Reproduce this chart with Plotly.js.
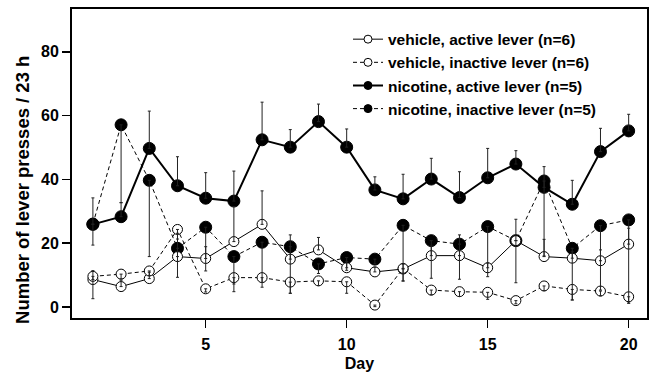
<!DOCTYPE html>
<html>
<head>
<meta charset="utf-8">
<script src="https://cdn.plot.ly/plotly-3.0.1.min.js"></script>
<style>html,body{margin:0;padding:0;background:#fff;}#chart{width:649px;height:373px;}</style>
</head>
<body>
<div id="chart"></div>
<script>
var days = [1,2,3,4,5,6,7,8,9,10,11,12,13,14,15,16,17,18,19,20];
var xTicks = [5,10,15,20];
var yTicks = [0,20,40,60,80];

var vehActive      = [8.6, 6.4, 8.9, 15.8, 15.2, 20.5, 25.9, 15.0, 17.9, 12.3, 11.0, 11.9, 16.1, 16.1, 12.3, 20.8, 15.8, 15.3, 14.5, 19.7];
var vehActiveErr   = [2.8, 2.0, 2.0, 7.3, 3.7, 11.0, 10.5, 7.6, 3.9, 2.0, 1.5, 1.5, 3.0, 6.5, 1.5, 6.7, 5.4, 2.0, 3.4, 5.0];
var vehInactive    = [9.6, 10.3, 11.3, 24.3, 5.7, 9.2, 9.2, 7.8, 8.2, 7.9, 0.6, 12.1, 5.3, 4.8, 4.6, 2.0, 6.6, 5.5, 5.0, 3.2];
var vehInactiveErr = [7.0, 1.5, 1.5, 3.0, 1.0, 2.0, 1.5, 3.5, 1.5, 3.6, 0.5, 4.0, 1.5, 1.5, 2.2, 1.0, 1.5, 3.3, 1.5, 2.0];
var nicActive      = [25.9, 28.3, 49.7, 38.0, 34.1, 33.2, 52.4, 50.1, 58.1, 50.1, 36.7, 33.9, 40.1, 34.3, 40.5, 44.8, 37.5, 32.2, 48.7, 55.2];
var nicActiveErr   = [8.3, 4.4, 11.7, 9.1, 8.0, 9.4, 11.8, 5.5, 5.5, 5.7, 4.1, 7.7, 6.5, 8.1, 9.2, 4.2, 6.5, 7.5, 7.3, 5.2];
var nicInactive    = [26.0, 57.1, 39.7, 18.4, 25.0, 15.8, 20.3, 18.9, 13.5, 15.5, 15.0, 25.6, 20.8, 19.7, 25.2, 20.8, 39.5, 18.4, 25.5, 27.3];
var nicInactiveErr = [6.6, 24.4, 23.9, 9.1, 13.7, 11.0, 14.1, 14.6, 3.0, 4.0, 1.5, 17.4, 11.8, 11.0, 15.7, 13.2, 23.5, 16.2, 20.2, 26.1];

var labels = ['vehicle, active lever (n=6)', 'vehicle, inactive lever (n=6)', 'nicotine, active lever (n=5)', 'nicotine, inactive lever (n=5)'];
var xTitle = 'Day';
var yTitle = 'Number of lever presses / 23 h';

var FONT = 'Liberation Sans, Arial, sans-serif';
var dashPat = '4px,3px';
function lineTrace(y, dash, width, filled, size) {
  return {
    x: days, y: y, type: 'scatter', mode: 'lines+markers', showlegend: false, hoverinfo: 'skip',
    line: {color: '#000', width: width, dash: dash},
    marker: {symbol: 'circle', size: size, color: filled ? '#000' : '#fff', line: {color: '#000', width: 1}},
    cliponaxis: false
  };
}
function errTrace(y, err, up) {
  var zeros = err.map(function(){return 0;});
  return {
    x: days, y: y, type: 'scatter', mode: 'markers', showlegend: false, hoverinfo: 'skip',
    marker: {size: 1, opacity: 0},
    error_y: {type: 'data', symmetric: false, array: up ? err : zeros, arrayminus: up ? zeros : err,
              color: '#222', thickness: 1, width: 1.5}
  };
}
function legendTrace(name, dash, width, filled) {
  return {
    x: [null], y: [null], name: name, type: 'scatter', mode: 'lines+markers',
    line: {color: '#000', width: width, dash: dash},
    marker: {symbol: 'circle', size: 8, color: filled ? '#000' : '#fff', line: {color: '#000', width: 1}}
  };
}

var data = [
  lineTrace(nicActive, 'solid', 2, true, 12),
  lineTrace(nicInactive, dashPat, 1, true, 12),
  lineTrace(vehActive, 'solid', 1, false, 10),
  lineTrace(vehInactive, dashPat, 1, false, 10),
  errTrace(nicActive, nicActiveErr, true),
  errTrace(nicInactive, nicInactiveErr, false),
  errTrace(vehActive, vehActiveErr, true),
  errTrace(vehInactive, vehInactiveErr, false),
  legendTrace(labels[0], 'solid', 1, false),
  legendTrace(labels[1], dashPat, 1, false),
  legendTrace(labels[2], 'solid', 2, true),
  legendTrace(labels[3], dashPat, 1, true)
];

var layout = {
  width: 649, height: 373,
  margin: {l: 72, r: 2, t: 9, b: 55},
  paper_bgcolor: '#fff', plot_bgcolor: '#fff',
  font: {family: FONT, color: '#000', size: 16, weight: 'bold'},
  showlegend: true,
  legend: {x: 0.48, y: 0.956, xanchor: 'left', yanchor: 'top', bgcolor: 'rgba(0,0,0,0)',
           font: {family: FONT, size: 15.5, weight: 'bold'}, traceorder: 'normal'},
  xaxis: {
    range: [0.259, 20.65], tickmode: 'array', tickvals: xTicks, ticktext: xTicks.map(String),
    ticks: 'outside', ticklen: 8, tickwidth: 1.5, tickcolor: '#000',
    showline: true, linecolor: '#000', linewidth: 2, mirror: true,
    showgrid: false, zeroline: false, ticklabelstandoff: 3,
    tickfont: {family: FONT, size: 16, weight: 'bold'},
    title: {text: xTitle, font: {family: FONT, size: 16, weight: 'bold'}, standoff: 6}
  },
  yaxis: {
    range: [-3.45, 93.4], tickmode: 'array', tickvals: yTicks, ticktext: yTicks.map(String),
    ticks: 'outside', ticklen: 8, tickwidth: 1.5, tickcolor: '#000',
    showline: true, linecolor: '#000', linewidth: 2, mirror: true,
    showgrid: false, zeroline: false,
    tickfont: {family: FONT, size: 16, weight: 'bold'}
  },
  annotations: [{
    text: yTitle, xref: 'paper', yref: 'paper', x: -0.087, y: (318 - 190) / 309,
    xanchor: 'center', yanchor: 'middle', textangle: -90, showarrow: false,
    font: {family: FONT, size: 18.5, weight: 'bold', color: '#000'}
  }]
};

Plotly.newPlot('chart', data, layout, {staticPlot: true, displayModeBar: false});
</script>
</body>
</html>
